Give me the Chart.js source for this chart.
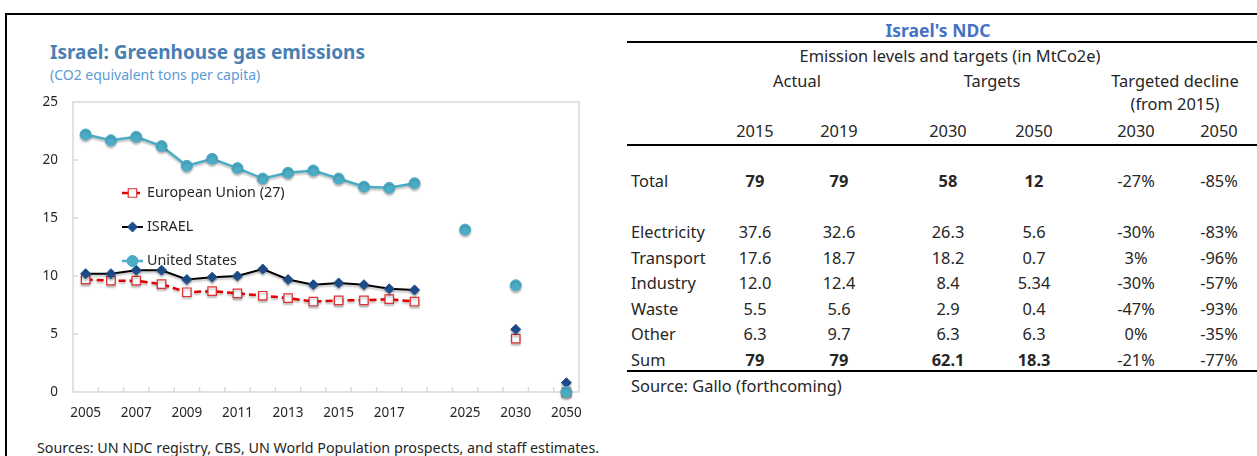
<!DOCTYPE html>
<html>
<head>
<meta charset="utf-8">
<script src="https://cdn.jsdelivr.net/npm/chart.js@4.4.1/dist/chart.umd.min.js"></script>
<style>
  body { margin:0; width:1257px; height:456px; position:relative; overflow:hidden; background:#fff; font-family:"Noto Sans", sans-serif; color:#262626; }
  .abs { position:absolute; white-space:nowrap; }
  .c { transform:translateX(-50%); text-align:center; }
  .rule { position:absolute; left:627px; width:640px; height:2px; background:#000; }
</style>
</head>
<body>
<div class="abs" style="left:5px;top:13px;width:1270px;height:470px;border-left:2px solid #000;border-top:2px solid #000;"></div>

<div class="abs" style="left:50px;top:39px;font-size:19px;font-weight:700;color:#4a7fb3;">Israel: Greenhouse gas emissions</div>
<div class="abs" style="left:50px;top:65px;font-size:14px;color:#5b9bd5;">(CO2 equivalent tons per capita)</div>
<div class="abs" style="left:0;top:0;width:600px;height:432px;"><canvas id="ghg_chart" width="600" height="432"></canvas></div>
<div class="abs" style="left:37px;top:438px;font-size:14.3px;">Sources: UN NDC registry, CBS, UN World Population prospects, and staff estimates.</div>

<div id="ndc_table"></div>

<script>
// chart data
const years = ["2005","2006","2007","2008","2009","2010","2011","2012","2013","2014","2015","2016","2017","2018","","2025","","2030","","2050"];
const euValues = [9.7, 9.6, 9.6, 9.3, 8.6, 8.7, 8.5, 8.3, 8.1, 7.8, 7.9, 7.9, 8.0, 7.8, null, null, null, 4.6, null, 0];
const israelValues = [10.2, 10.2, 10.5, 10.5, 9.7, 9.9, 10.0, 10.6, 9.7, 9.25, 9.4, 9.25, 8.9, 8.8, null, null, null, 5.4, null, 0.8];
const usValues = [22.2, 21.7, 22.0, 21.2, 19.5, 20.1, 19.3, 18.4, 18.9, 19.1, 18.4, 17.7, 17.6, 18.0, null, 14.0, null, 9.2, null, 0];
const yMin = 0, yMax = 25, yStep = 5;

// table data
const ndcTitle = "Israel's NDC";
const ndcRows = ["Total", "Electricity", "Transport", "Industry", "Waste", "Other", "Sum"];
const actual2015 = ["79", "37.6", "17.6", "12.0", "5.5", "6.3", "79"];
const actual2019 = ["79", "32.6", "18.7", "12.4", "5.6", "9.7", "79"];
const target2030 = ["58", "26.3", "18.2", "8.4", "2.9", "6.3", "62.1"];
const target2050 = ["12", "5.6", "0.7", "5.34", "0.4", "6.3", "18.3"];
const decline2030 = ["-27%", "-30%", "3%", "-30%", "-47%", "0%", "-21%"];
const decline2050 = ["-85%", "-83%", "-96%", "-57%", "-93%", "-35%", "-77%"];
const columnYears = ["2015", "2019", "2030", "2050", "2030", "2050"];
const boldRows = ["Total", "Sum"];

// ---- table ----
const tbl = document.getElementById("ndc_table");
function put(text, x, y, css, centered) {
    let d = document.createElement("div");
    d.className = "abs" + (centered ? " c" : "");
    d.style.left = x + "px";
    d.style.top = y + "px";
    d.style.lineHeight = "20px";
    d.style.cssText += css || "";
    d.textContent = text;
    tbl.appendChild(d);
}
const colX = [755, 839, 948, 1034, 1136, 1219];
const rowY = [181, 232, 258, 283, 309, 334, 360];
const f = "font-size:16.4px;";
put(ndcTitle, 938, 20, "font-size:17.5px;font-weight:700;color:#4472c4;", true);
put("Emission levels and targets (in MtCo2e)", 950, 46, f, true);
put("Actual", 797, 71, f, true);
put("Targets", 992, 71, f, true);
put("Targeted decline", 1175, 71, f, true);
put("(from 2015)", 1175, 94, f, true);
columnYears.forEach((y, i) => put(y, colX[i], 121, f, true));
let cols = [actual2015, actual2019, target2030, target2050, decline2030, decline2050];
ndcRows.forEach((r, j) => {
    let top = rowY[j] - 10;
    put(r, 631, top, f, false);
    cols.forEach((col, i) => {
        let bold = boldRows.includes(r) && i < 4 ? "font-weight:700;" : "";
        put(col[j], colX[i], top, f + bold, true);
    });
});
put("Source: Gallo (forthcoming)", 631, 376, f, false);
[41, 144, 370].forEach(y => {
    let l = document.createElement("div");
    l.className = "rule";
    l.style.top = y + "px";
    tbl.appendChild(l);
});

// ---- chart ----
const frameColor = "#d9d9d9";

const plotFrame = {
    id: "plotFrame",
    beforeDatasetsDraw(chart) {
        let {ctx, chartArea: a, scales} = chart;
        ctx.save();
        ctx.strokeStyle = frameColor;
        ctx.lineWidth = 1.5;
        ctx.strokeRect(a.left, a.top, a.right - a.left, a.bottom - a.top);
        // inner tick marks
        ctx.beginPath();
        let n = years.length, w = (a.right - a.left) / n;
        for (let i = 1; i < n; i++) {
            let x = a.left + i * w;
            ctx.moveTo(x, a.bottom);
            ctx.lineTo(x, a.bottom - 5);
        }
        for (let v = yMin + yStep; v < yMax; v += yStep) {
            let y = scales.y.getPixelForValue(v);
            ctx.moveTo(a.left, y);
            ctx.lineTo(a.left + 5, y);
        }
        ctx.stroke();
        ctx.restore();
    }
};

const lineShadow = {
    id: "lineShadow",
    beforeDatasetDraw(chart) {
        let ctx = chart.ctx;
        ctx.save();
        ctx.shadowColor = "rgba(0,0,0,0.25)";
        ctx.shadowBlur = 2;
        ctx.shadowOffsetY = 2;
    },
    afterDatasetDraw(chart) {
        chart.ctx.restore();
    }
};

const insideLegend = {
    id: "insideLegend",
    afterDraw(chart) {
        let {ctx, chartArea: a} = chart;
        chart.data.datasets.forEach((ds, i) => {
            let y = a.top + 91 + i * 34;
            let x0 = a.left + 49, x1 = a.left + 70, xm = (x0 + x1) / 2;
            ctx.save();
            ctx.strokeStyle = ds.borderColor;
            ctx.lineWidth = ds.borderWidth;
            ctx.setLineDash(ds.borderDash || []);
            ctx.beginPath();
            ctx.moveTo(x0, y);
            ctx.lineTo(x1, y);
            ctx.stroke();
            ctx.setLineDash([]);
            ctx.fillStyle = ds.pointBackgroundColor;
            ctx.strokeStyle = ds.pointBorderColor;
            ctx.lineWidth = ds.pointBorderWidth;
            Chart.helpers.drawPoint(ctx, {pointStyle: ds.pointStyle, radius: ds.pointRadius, borderWidth: ds.pointBorderWidth, rotation: 0}, xm, y);
            ctx.fillStyle = "#262626";
            ctx.font = "14.3px 'Noto Sans'";
            ctx.textBaseline = "middle";
            ctx.fillText(ds.label, x1 + 4, y);
            ctx.restore();
        });
    }
};

new Chart(document.getElementById("ghg_chart"), {
    type: "line",
    data: {
        labels: years,
        datasets: [
            {
                label: "European Union (27)",
                data: euValues,
                borderColor: "#e00000",
                borderWidth: 2.5,
                borderDash: [7, 4],
                pointStyle: "rect",
                pointRadius: 6,
                pointBackgroundColor: "#ffffff",
                pointBorderColor: "#e03030",
                pointBorderWidth: 1.2,
                clip: false,
                order: 2
            },
            {
                label: "ISRAEL",
                data: israelValues,
                borderColor: "#000000",
                borderWidth: 2,
                pointStyle: "rectRot",
                pointRadius: 5,
                pointBackgroundColor: "#1f4e8c",
                pointBorderColor: "#1f4e8c",
                pointBorderWidth: 1,
                clip: false,
                order: 1
            },
            {
                label: "United States",
                data: usValues,
                borderColor: "#4bacc6",
                borderWidth: 2.5,
                pointStyle: "circle",
                pointRadius: 5.5,
                pointBackgroundColor: "#4bacc6",
                pointBorderColor: "#4bacc6",
                pointBorderWidth: 1,
                clip: false,
                order: 0
            }
        ]
    },
    options: {
        responsive: false,
        animation: false,
        spanGaps: false,
        layout: { padding: { top: 102, right: 21, left: 0, bottom: 0 } },
        plugins: { legend: { display: false }, tooltip: { enabled: false } },
        scales: {
            x: {
                offset: true,
                grid: { display: false, drawTicks: false },
                border: { display: false },
                ticks: {
                    autoSkip: false, maxRotation: 0, padding: 13,
                    color: "#262626", font: { family: "Noto Sans", size: 13.5 },
                    callback: (v, i) => (i < 14 && i % 2 === 1) ? "" : years[i]
                },
                afterFit: s => { s.height = 40; }
            },
            y: {
                min: yMin, max: yMax,
                grid: { display: false, drawTicks: false },
                border: { display: false },
                ticks: { stepSize: yStep, padding: 15, color: "#262626", font: { family: "Noto Sans", size: 13.5 } },
                afterFit: s => { s.width = 73; }
            }
        }
    },
    plugins: [plotFrame, lineShadow, insideLegend]
});
</script>
</body>
</html>
